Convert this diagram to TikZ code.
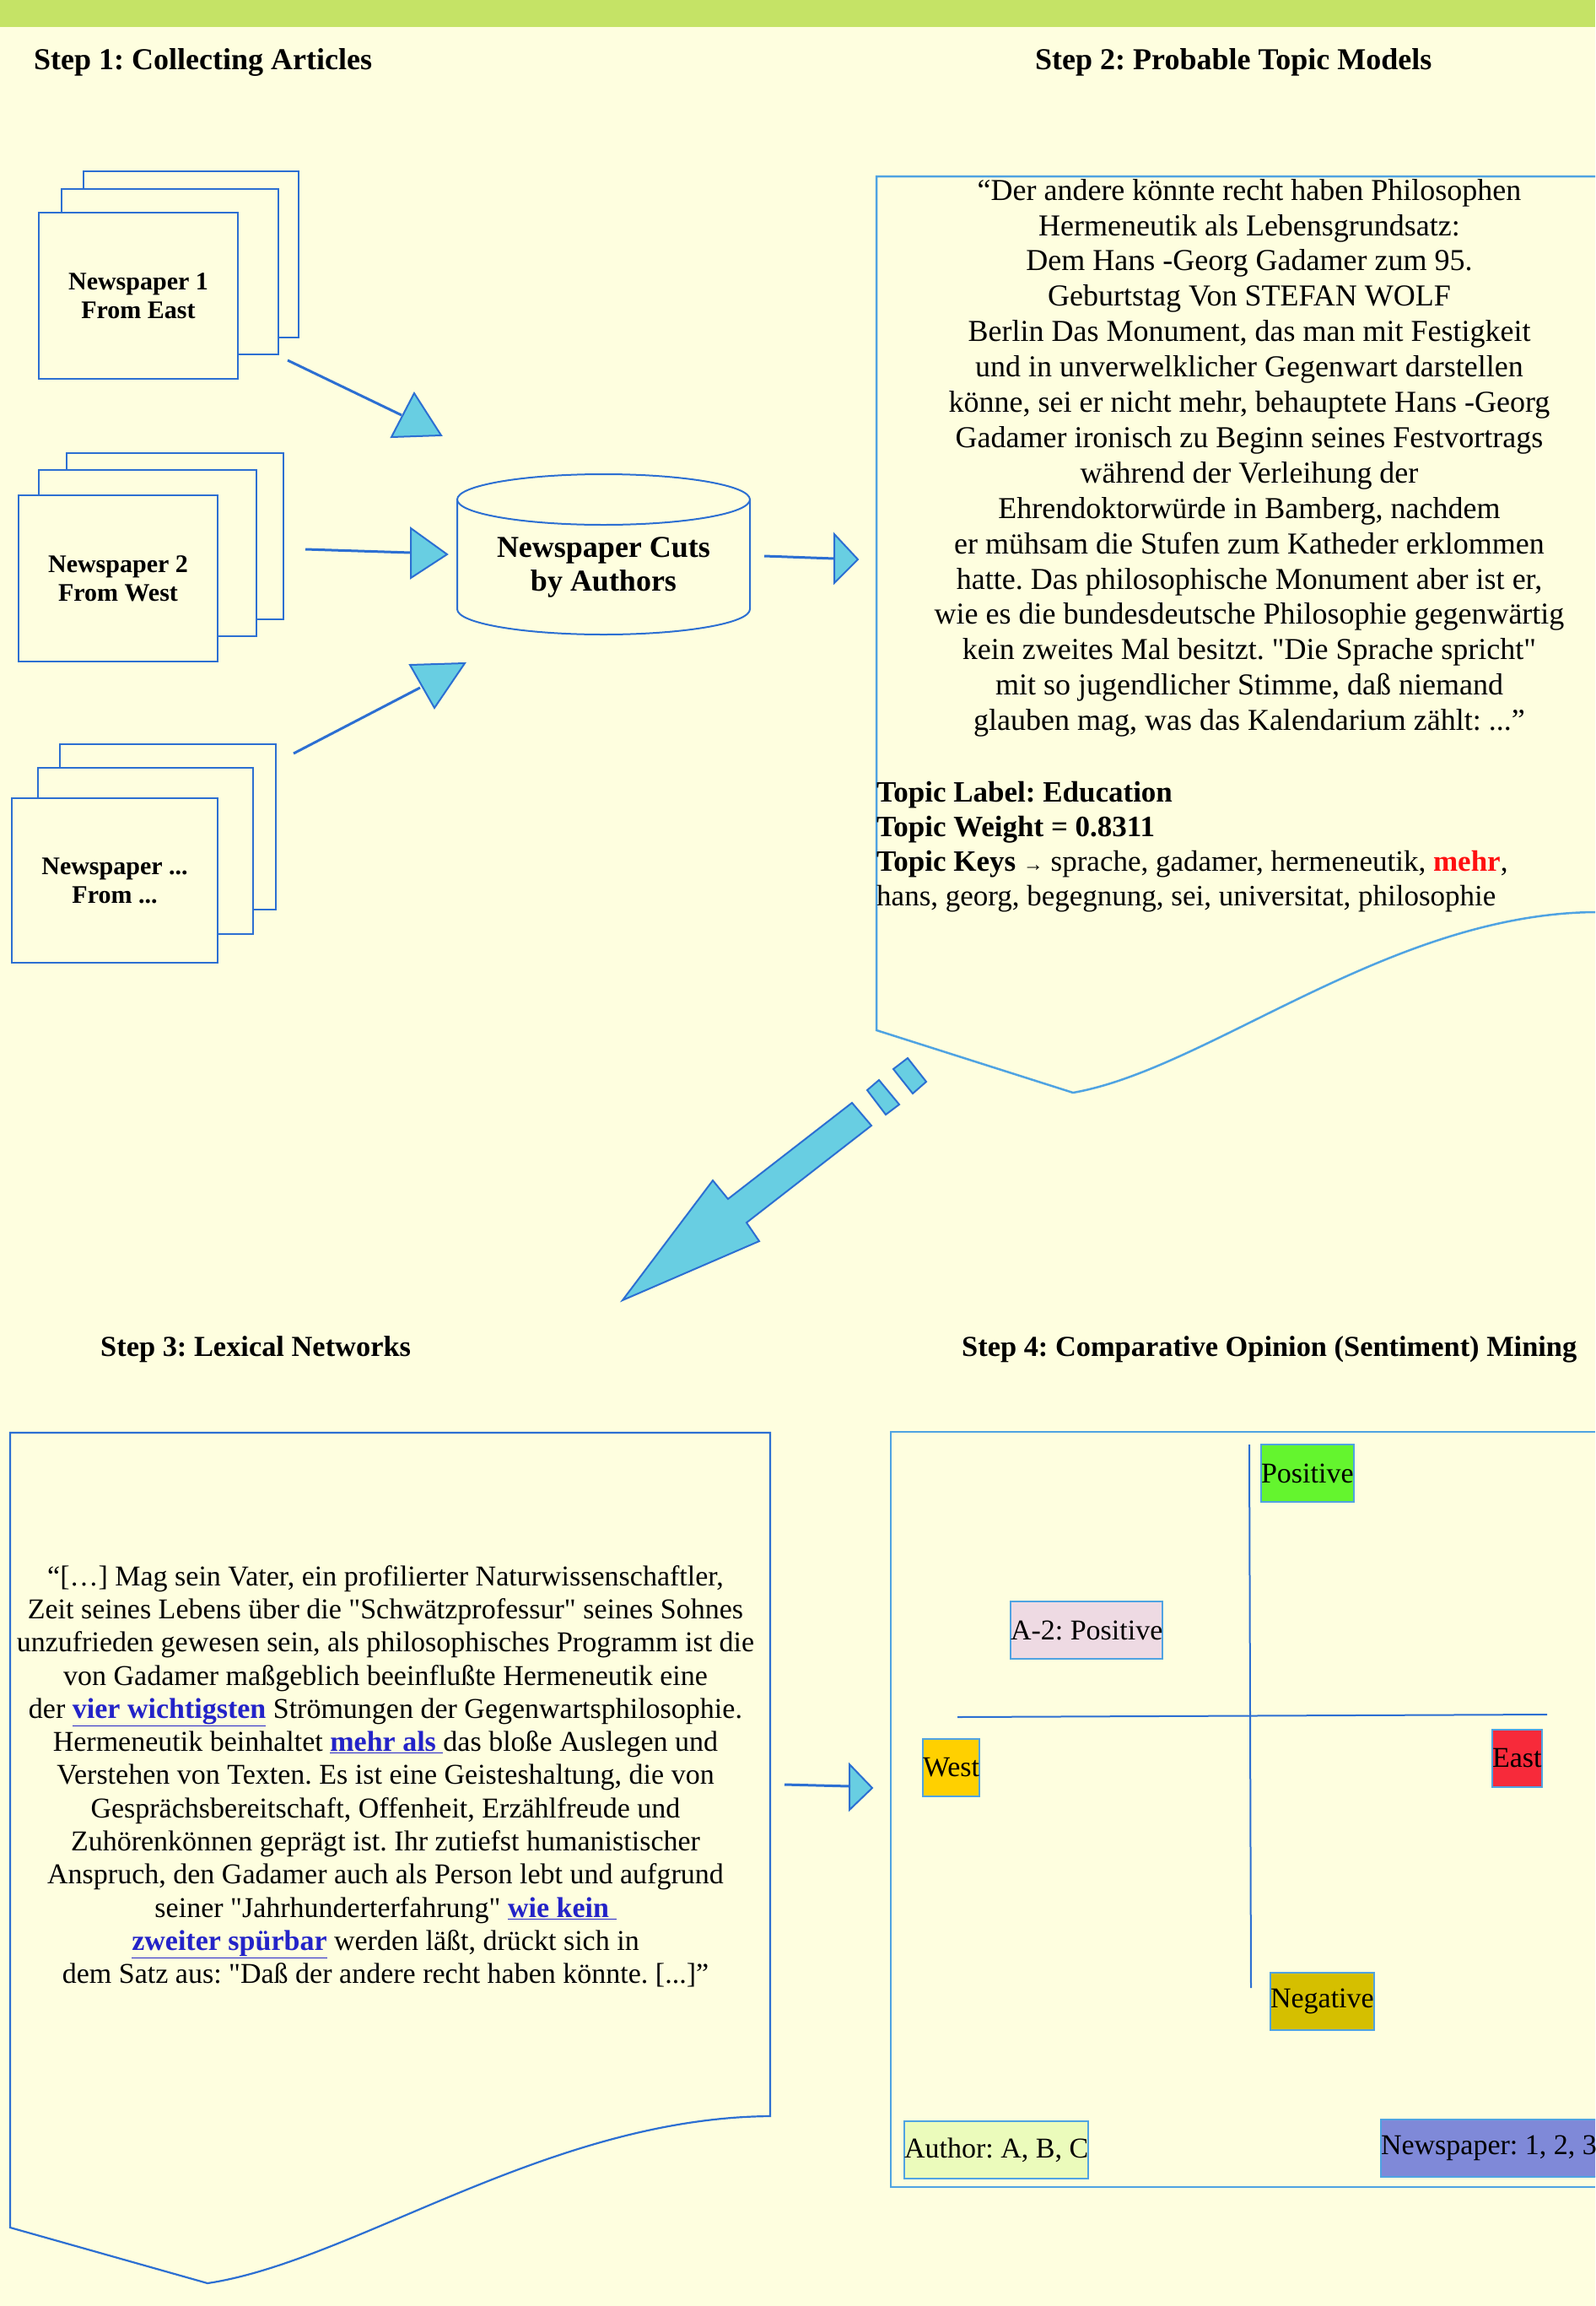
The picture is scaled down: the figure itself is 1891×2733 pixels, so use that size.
\documentclass[tikz,border=0pt]{standalone}
\usepackage{fontspec}
\newfontfamily\lib{Liberation Serif}
\definecolor{bgc}{HTML}{FEFEDF}
\definecolor{bandc}{HTML}{C5E366}
\definecolor{lineb}{HTML}{2C6FD2}
\definecolor{lightb}{HTML}{4FA3E2}
\definecolor{trif}{HTML}{68CEE2}
\definecolor{posc}{HTML}{64F52E}
\definecolor{a2c}{HTML}{EEDAE3}
\definecolor{westc}{HTML}{FFD000}
\definecolor{eastc}{HTML}{F72A3A}
\definecolor{negc}{HTML}{D5BF00}
\definecolor{authc}{HTML}{EBFBBB}
\definecolor{npc}{HTML}{7F89D8}
\definecolor{linkc}{HTML}{2323C8}
\definecolor{redc}{HTML}{FF1010}
\begin{document}
\frenchspacing
\begin{tikzpicture}[x=1pt,y=-1pt,
  ttl/.style={font={\fontsize{36}{43}\selectfont\lib\bfseries}, inner sep=0, anchor=base west},
  ttlb/.style={font={\fontsize{34.4}{41}\selectfont\lib\bfseries}, inner sep=0, anchor=base west},
  paper/.style={draw=lineb, line width=2.5, fill=bgc},
  stk/.style={paper, inner sep=0, align=center, font={\fontsize{30}{34}\selectfont\lib\bfseries}},
  conn/.style={draw=lineb, line width=3},
  tri/.style={fill=trif, draw=lineb, line width=2, line join=miter},
  doc/.style={draw=lightb, line width=2.5},
  lab/.style={draw=lightb, line width=2, inner xsep=0, inner ysep=0, minimum height=68, anchor=north west, font={\fontsize{34}{40}\selectfont\lib}},
  body/.style={inner sep=0, align=center, anchor=north},
]
\useasboundingbox (0,0) rectangle (1891,2733);
\clip (0,0) rectangle (1891,2733);
\fill[bgc] (0,0) rectangle (1891,2733);
\fill[bandc] (0,0) rectangle (1891,32);

% titles
\node[ttl] (t1) at (40,82) {Step 1: Collecting Articles};
\node[ttl] (t2) at (1227,82) {Step 2: Probable Topic Models};
\node[ttlb] (t3) at (119,1607) {Step 3: Lexical Networks};
\node[ttlb] (t4) at (1140,1607) {Step 4: Comparative Opinion (Sentiment) Mining};

% stacks
\draw[paper] (99,203) rectangle (354,400);
\draw[paper] (73,224) rectangle (330,420);
\node[stk, minimum width=236, minimum height=197] (g1) at (164,350.5) {Newspaper 1\\From East};
\draw[paper] (79,537) rectangle (336,734);
\draw[paper] (46,557) rectangle (304,754);
\node[stk, minimum width=236, minimum height=197] (g2) at (140,685.5) {Newspaper 2\\From West};
\draw[paper] (71,882) rectangle (327,1078);
\draw[paper] (45,910) rectangle (300,1107);
\node[stk, minimum width=244, minimum height=195] (g3) at (136,1043.5) {Newspaper ...\\From ...};

% cylinder
\draw[draw=lineb, line width=2, fill=bgc] (542,592) -- (542,722) arc[start angle=180, end angle=0, x radius=173.5, y radius=30] -- (889,592);
\draw[draw=lineb, line width=2, fill=bgc] (715.5,592) ellipse[x radius=173.5, y radius=30];
\node[inner sep=0, align=center, font={\fontsize{36}{40}\selectfont\lib\bfseries}] (cyl) at (715.5,672) {Newspaper Cuts\\by Authors};

% connectors step 1
\coordinate (a1s) at (341,427); \coordinate (a1e) at (476,492);
\draw[conn] (a1s) -- (a1e);
\filldraw[tri] (491,466) -- (464,518) -- (523,516) -- cycle;
\coordinate (a2s) at (362,651); \coordinate (a2e) at (487,655);
\draw[conn] (a2s) -- (a2e);
\filldraw[tri] (487,626) -- (487,685) -- (530,657) -- cycle;
\coordinate (a3s) at (348,893); \coordinate (a3e) at (498,815);
\draw[conn] (a3s) -- (a3e);
\filldraw[tri] (486,788) -- (551,786) -- (515,839) -- cycle;
\coordinate (a4s) at (906,659); \coordinate (a4e) at (989,662);
\draw[conn] (a4s) -- (a4e);
\filldraw[tri] (989,633) -- (989,691) -- (1017,663) -- cycle;

% step 2 document
\draw[doc] (1891,209) -- (1039,209) -- (1039,1221) -- (1272,1295) .. controls (1433,1267) and (1647,1083) .. (1891,1081);
\node[body, font={\fontsize{36}{41.9}\selectfont\lib}] (txt2) at (1481,212) {%
“Der andere könnte recht haben Philosophen\\
Hermeneutik als Lebensgrundsatz:\\
Dem Hans -Georg Gadamer zum 95.\\
Geburtstag Von STEFAN WOLF\\
Berlin Das Monument, das man mit Festigkeit\\
und in unverwelklicher Gegenwart darstellen\\
könne, sei er nicht mehr, behauptete Hans -Georg\\
Gadamer ironisch zu Beginn seines Festvortrags\\
während der Verleihung der\\
Ehrendoktorwürde in Bamberg, nachdem\\
er mühsam die Stufen zum Katheder erklommen\\
hatte. Das philosophische Monument aber ist er,\\
wie es die bundesdeutsche Philosophie gegenwärtig\\
kein zweites Mal besitzt. "Die Sprache spricht"\\
mit so jugendlicher Stimme, daß niemand\\
glauben mag, was das Kalendarium zählt: ...”};
\node[inner sep=0, align=left, anchor=north west, font={\fontsize{35}{41}\selectfont\lib}] (keys) at (1039,926) {%
\textbf{Topic Label: Education}\\
\textbf{Topic Weight = 0.8311}\\
\textbf{Topic Keys} {\fontsize{24}{24}\selectfont →} sprache, gadamer, hermeneutik, \textcolor{redc}{\textbf{mehr}},\\
hans, georg, begegnung, sei, universitat, philosophie};

% big arrow
\filldraw[tri] (738,1541) -- (845,1399) -- (863,1421) -- (1010,1307) -- (1033,1334) -- (885,1449) -- (900,1471) -- cycle;
\filldraw[tri] (1028,1292) -- (1042,1280) -- (1066,1309) -- (1050,1321) -- cycle;
\filldraw[tri] (1059,1267) -- (1076,1254) -- (1098,1282) -- (1082,1296) -- cycle;

% step 3 document
\draw[draw=lineb, line width=2.2] (12,1698) -- (913,1698) -- (913,2508) .. controls (650,2510) and (420,2680) .. (246,2706) -- (12,2640) -- cycle;
\node[body, font={\fontsize{34}{39.3}\selectfont\lib}] (txt3) at (457,1855) {%
“[…] Mag sein Vater, ein profilierter Naturwissenschaftler,\\
Zeit seines Lebens über die "Schwätzprofessur" seines Sohnes\\
unzufrieden gewesen sein, als philosophisches Programm ist die\\
von Gadamer maßgeblich beeinflußte Hermeneutik eine\\
der \textcolor{linkc}{\textbf{\underline{vier wichtigsten}}} Strömungen der Gegenwartsphilosophie.\\
Hermeneutik beinhaltet \textcolor{linkc}{\textbf{\underline{mehr als\ }}}das bloße Auslegen und\\
Verstehen von Texten. Es ist eine Geisteshaltung, die von\\
Gesprächsbereitschaft, Offenheit, Erzählfreude und\\
Zuhörenkönnen geprägt ist. Ihr zutiefst humanistischer\\
Anspruch, den Gadamer auch als Person lebt und aufgrund\\
seiner "Jahrhunderterfahrung" \textcolor{linkc}{\textbf{\underline{wie kein\ }}}\\
\textcolor{linkc}{\textbf{\underline{zweiter spürbar}}} werden läßt, drückt sich in\\
dem Satz aus: "Daß der andere recht haben könnte. [...]”};

% connector step 3 -> 4
\coordinate (a5s) at (930,2115); \coordinate (a5e) at (1007,2117);
\draw[conn] (a5s) -- (a5e);
\filldraw[tri] (1007,2091) -- (1007,2145) -- (1034,2119) -- cycle;

% step 4 box
\draw[doc] (1891,1697) -- (1056,1697) -- (1056,2592) -- (1891,2592);
\draw[draw=lineb, line width=2] (1481,1712) -- (1483,2356);
\draw[draw=lineb, line width=2] (1135,2035) -- (1834,2032);
\node[lab, fill=posc] (pos) at (1494,1711) {Positive};
\node[lab, fill=a2c] (a2) at (1197,1897) {A-2: Positive};
\node[lab, fill=westc] (west) at (1093,2060) {West};
\node[lab, fill=eastc] (east) at (1768,2049) {East};
\node[lab, fill=negc] (neg) at (1505,2337) {Negative};
\node[lab, fill=authc] (auth) at (1071,2513) {Author: A, B, C};
\node[lab, fill=npc] (np) at (1636,2511) {Newspaper: 1, 2, 3};
\end{tikzpicture}
\end{document}
